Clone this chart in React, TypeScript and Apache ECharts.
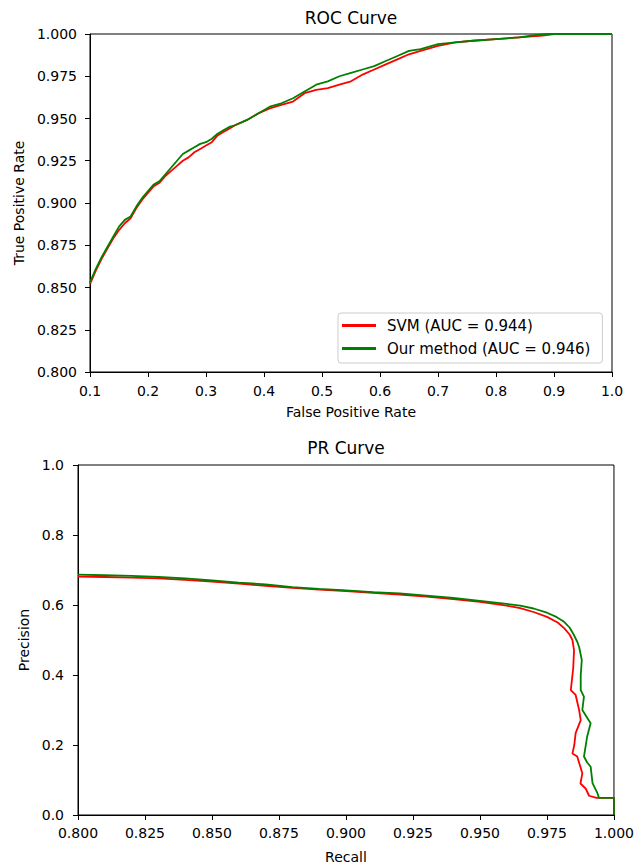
import React, { useEffect, useRef } from "react";
import * as echarts from "echarts";

// ROC curve — SVM
const rocFprSvm = [0.1, 0.11, 0.12, 0.13, 0.14, 0.15, 0.16, 0.17, 0.18, 0.19, 0.2, 0.21, 0.22, 0.23, 0.24, 0.25, 0.26, 0.27, 0.28, 0.29, 0.3, 0.31, 0.32, 0.33, 0.34, 0.35, 0.37, 0.39, 0.41, 0.43, 0.45, 0.47, 0.49, 0.51, 0.53, 0.55, 0.57, 0.59, 0.61, 0.63, 0.65, 0.67, 0.7, 0.73, 0.76, 0.8, 0.84, 0.88, 0.9, 1.0];
const rocTprSvm = [0.852, 0.86, 0.867, 0.873, 0.879, 0.884, 0.888, 0.891, 0.897, 0.902, 0.906, 0.91, 0.912, 0.916, 0.919, 0.922, 0.925, 0.927, 0.93, 0.932, 0.934, 0.936, 0.94, 0.942, 0.944, 0.946, 0.949, 0.953, 0.956, 0.958, 0.96, 0.965, 0.967, 0.968, 0.97, 0.972, 0.976, 0.979, 0.982, 0.985, 0.988, 0.99, 0.993, 0.995, 0.996, 0.997, 0.998, 0.999, 1.0, 1.0];
// ROC curve — Our method
const rocFprOurs = [0.1, 0.11, 0.12, 0.13, 0.14, 0.15, 0.16, 0.17, 0.18, 0.19, 0.2, 0.21, 0.22, 0.23, 0.24, 0.25, 0.26, 0.27, 0.28, 0.29, 0.3, 0.31, 0.32, 0.33, 0.34, 0.35, 0.37, 0.39, 0.41, 0.43, 0.45, 0.47, 0.49, 0.51, 0.53, 0.55, 0.57, 0.59, 0.61, 0.63, 0.65, 0.67, 0.7, 0.73, 0.76, 0.8, 0.84, 0.87, 0.89, 1.0];
const rocTprOurs = [0.853, 0.861, 0.868, 0.874, 0.88, 0.886, 0.89, 0.892, 0.898, 0.903, 0.907, 0.911, 0.913, 0.917, 0.921, 0.925, 0.929, 0.931, 0.933, 0.935, 0.936, 0.938, 0.941, 0.943, 0.945, 0.946, 0.949, 0.953, 0.957, 0.959, 0.962, 0.966, 0.97, 0.972, 0.975, 0.977, 0.979, 0.981, 0.984, 0.987, 0.99, 0.991, 0.994, 0.995, 0.996, 0.997, 0.998, 0.9995, 1.0, 1.0];

// PR curve — SVM
const prRecallSvm = [0.8, 0.81, 0.82, 0.83, 0.84, 0.85, 0.86, 0.87, 0.88, 0.89, 0.9, 0.91, 0.92, 0.93, 0.94, 0.95, 0.96, 0.965, 0.97, 0.975, 0.979, 0.9815, 0.9835, 0.9845, 0.9851, 0.9848, 0.9839, 0.9857, 0.987, 0.9876, 0.9857, 0.9852, 0.9845, 0.9863, 0.9882, 0.9875, 0.9895, 0.9907, 0.9935, 1.0, 1.0];
const prPrecisionSvm = [0.681, 0.68, 0.678, 0.676, 0.672, 0.667, 0.661, 0.655, 0.649, 0.644, 0.64, 0.635, 0.63, 0.624, 0.617, 0.609, 0.598, 0.591, 0.58, 0.566, 0.55, 0.533, 0.515, 0.5, 0.471, 0.42, 0.357, 0.343, 0.3, 0.271, 0.234, 0.2, 0.176, 0.167, 0.119, 0.09, 0.075, 0.055, 0.049, 0.049, 0.0];
// PR curve — Our method
const prRecallOurs = [0.8, 0.81, 0.82, 0.83, 0.84, 0.85, 0.86, 0.87, 0.88, 0.89, 0.9, 0.91, 0.92, 0.93, 0.94, 0.95, 0.96, 0.965, 0.97, 0.975, 0.9785, 0.9814, 0.9835, 0.985, 0.9863, 0.987, 0.988, 0.9876, 0.9876, 0.9888, 0.9882, 0.9913, 0.99, 0.9888, 0.99, 0.9913, 0.992, 0.9938, 0.9944, 1.0, 1.0];
const prPrecisionOurs = [0.687, 0.685, 0.683, 0.68, 0.676, 0.67, 0.664, 0.659, 0.651, 0.646, 0.642, 0.637, 0.633, 0.627, 0.62, 0.612, 0.603, 0.598, 0.59, 0.578, 0.566, 0.552, 0.535, 0.515, 0.495, 0.48, 0.443, 0.4, 0.357, 0.338, 0.3, 0.262, 0.224, 0.167, 0.15, 0.138, 0.091, 0.063, 0.049, 0.049, 0.0];

const svmLabel = "SVM (AUC = 0.944)";
const oursLabel = "Our method (AUC = 0.946)";

const FONT = "DejaVu Sans";
const RED = "#ff0000";
const GREEN = "#008000";

const pairs = (xs: number[], ys: number[]) => xs.map((x, i) => [x, ys[i]]);

export default function App() {
  const ref = useRef<HTMLDivElement>(null);
  useEffect(() => {
    if (!ref.current) return;
    const chart = echarts.init(ref.current, undefined, { renderer: "svg" });
    const axisCommon = {
      axisLine: { show: true, lineStyle: { color: "#000", width: 1 } },
      axisTick: { show: true, inside: false, length: 5, lineStyle: { color: "#000", width: 1 } },
      splitLine: { show: false },
      nameTextStyle: { fontFamily: FONT, fontSize: 14, color: "#000" },
    };
    const labelStyle = { fontFamily: FONT, fontSize: 14, color: "#000" };
    chart.setOption({
      animation: false,
      backgroundColor: "#fff",
      grid: [
        { left: 90, top: 34, width: 522, height: 338, show: true, borderColor: "#000", borderWidth: 1, containLabel: false },
        { left: 78, top: 465, width: 537, height: 350, show: true, borderColor: "#000", borderWidth: 1, containLabel: false },
      ],
      xAxis: [
        {
          ...axisCommon,
          type: "value", gridIndex: 0, min: 0.1, max: 1.0, interval: 0.1,
          name: "False Positive Rate", nameLocation: "middle", nameGap: 33,
          axisLabel: { ...labelStyle, margin: 12, formatter: (v: number) => v.toFixed(1) },
        },
        {
          ...axisCommon,
          type: "value", gridIndex: 1, min: 0.8, max: 1.0, interval: 0.025,
          name: "Recall", nameLocation: "middle", nameGap: 35,
          axisLabel: { ...labelStyle, margin: 11, formatter: (v: number) => v.toFixed(3) },
        },
      ],
      yAxis: [
        {
          ...axisCommon,
          type: "value", gridIndex: 0, min: 0.8, max: 1.0, interval: 0.025,
          name: "True Positive Rate", nameLocation: "middle", nameGap: 62,
          axisLabel: { ...labelStyle, margin: 13, formatter: (v: number) => v.toFixed(3) },
        },
        {
          ...axisCommon,
          type: "value", gridIndex: 1, min: 0, max: 1.0, interval: 0.2,
          name: "Precision", nameLocation: "middle", nameGap: 46,
          axisLabel: { ...labelStyle, margin: 14, formatter: (v: number) => v.toFixed(1) },
        },
      ],
      legend: {
        data: [svmLabel, oursLabel],
        orient: "vertical",
        left: 338,
        top: 313,
        itemWidth: 34,
        itemHeight: 3,
        itemGap: 6,
        icon: "rect",
        padding: [4, 12, 6, 4],
        backgroundColor: "rgba(255,255,255,0.8)",
        borderColor: "#cccccc",
        borderWidth: 1,
        borderRadius: 3,
        textStyle: { fontFamily: FONT, fontSize: 15, color: "#000", lineHeight: 17, padding: [0, 0, 0, 6] },
      },
      graphic: [
        { type: "text", x: 351, y: 18, style: { text: "ROC Curve", font: `17px "${FONT}"`, fill: "#000", textAlign: "center", textVerticalAlign: "middle" } },
        { type: "text", x: 346, y: 448, style: { text: "PR Curve", font: `17px "${FONT}"`, fill: "#000", textAlign: "center", textVerticalAlign: "middle" } },
      ],
      series: [
        {
          name: svmLabel, type: "line", xAxisIndex: 0, yAxisIndex: 0, showSymbol: false, symbol: "none",
          data: pairs(rocFprSvm, rocTprSvm), lineStyle: { color: RED, width: 1.8 }, itemStyle: { color: RED }, z: 2,
        },
        {
          name: oursLabel, type: "line", xAxisIndex: 0, yAxisIndex: 0, showSymbol: false, symbol: "none",
          data: pairs(rocFprOurs, rocTprOurs), lineStyle: { color: GREEN, width: 1.8 }, itemStyle: { color: GREEN }, z: 3,
        },
        {
          name: "SVM PR", type: "line", xAxisIndex: 1, yAxisIndex: 1, showSymbol: false, symbol: "none",
          data: pairs(prRecallSvm, prPrecisionSvm), lineStyle: { color: RED, width: 1.8 }, itemStyle: { color: RED }, z: 2,
        },
        {
          name: "Our method PR", type: "line", xAxisIndex: 1, yAxisIndex: 1, showSymbol: false, symbol: "none",
          data: pairs(prRecallOurs, prPrecisionOurs), lineStyle: { color: GREEN, width: 1.8 }, itemStyle: { color: GREEN }, z: 3,
        },
      ],
    });
    return () => chart.dispose();
  }, []);
  return (
    <div
      ref={ref}
      style={{ position: "absolute", left: 0, top: 0, width: 637, height: 866, background: "#fff" }}
    />
  );
}
